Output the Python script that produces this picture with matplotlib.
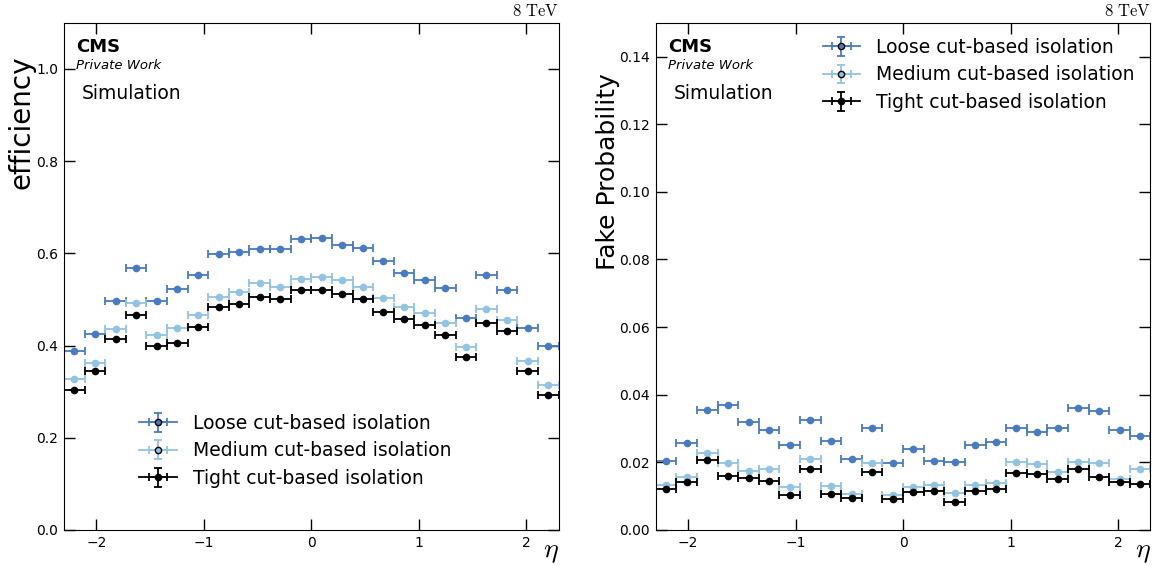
import numpy as np
import matplotlib
matplotlib.use("Agg")
import matplotlib.pyplot as plt
from matplotlib.legend_handler import HandlerErrorbar
from matplotlib.lines import Line2D

plt.rcParams['mathtext.fontset'] = 'cm'
plt.rcParams['font.family'] = 'DejaVu Sans'

# eta binning: 24 equal bins between -2.3 and 2.3
eta_edges = np.linspace(-2.3, 2.3, 25)
eta_centers = 0.5 * (eta_edges[1:] + eta_edges[:-1])
eta_halfwidth = 0.5 * np.diff(eta_edges)

labels = ['Loose cut-based isolation', 'Medium cut-based isolation', 'Tight cut-based isolation']
colors = ['#4a7bbf', '#92c3e2', 'black']

# signal efficiency per eta bin
eff_loose = [0.389, 0.425, 0.497, 0.568, 0.497, 0.522, 0.553, 0.598, 0.603, 0.609, 0.610, 0.632,
             0.633, 0.619, 0.612, 0.584, 0.557, 0.542, 0.525, 0.460, 0.552, 0.520, 0.437, 0.398]
eff_medium = [0.328, 0.363, 0.436, 0.492, 0.423, 0.439, 0.467, 0.506, 0.516, 0.535, 0.527, 0.545,
              0.548, 0.542, 0.527, 0.502, 0.484, 0.470, 0.449, 0.397, 0.480, 0.455, 0.367, 0.315]
eff_tight = [0.304, 0.344, 0.415, 0.466, 0.400, 0.405, 0.441, 0.483, 0.489, 0.506, 0.501, 0.520,
             0.521, 0.512, 0.500, 0.473, 0.458, 0.445, 0.423, 0.376, 0.448, 0.431, 0.345, 0.292]

# fake probability per eta bin
fake_loose = [0.0205, 0.0257, 0.0355, 0.0369, 0.0319, 0.0297, 0.0252, 0.0325, 0.0264, 0.0210, 0.0303, 0.0197,
              0.0239, 0.0205, 0.0201, 0.0250, 0.0260, 0.0303, 0.0289, 0.0303, 0.0360, 0.0353, 0.0296, 0.0277]
fake_medium = [0.0133, 0.0156, 0.0229, 0.0199, 0.0175, 0.0181, 0.0126, 0.0211, 0.0130, 0.0106, 0.0199, 0.0104,
               0.0126, 0.0133, 0.0110, 0.0133, 0.0138, 0.0202, 0.0194, 0.0172, 0.0202, 0.0197, 0.0152, 0.0180]
fake_tight = [0.0120, 0.0141, 0.0206, 0.0161, 0.0154, 0.0145, 0.0102, 0.0180, 0.0107, 0.0095, 0.0172, 0.0091,
              0.0112, 0.0115, 0.0082, 0.0114, 0.0122, 0.0169, 0.0165, 0.0150, 0.0179, 0.0158, 0.0141, 0.0137]

fig = plt.figure(figsize=(11.59, 5.70), dpi=100)
ax_eff = fig.add_axes([0.0552, 0.0702, 0.4268, 0.890])
ax_fake = fig.add_axes([0.5658, 0.0702, 0.4268, 0.890])


class OutlinedErrorbar(HandlerErrorbar):
    # errorbar legend entry with a solid line through it and a black-edged marker
    def create_artists(self, *args, **kwargs):
        artists = super().create_artists(*args, **kwargs)
        for a in artists:
            if isinstance(a, Line2D):
                marker = str(a.get_marker()).lower()
                if marker == 'o':
                    a.set_markeredgecolor('black')
                elif marker in ('none', ''):
                    a.set_linestyle('-')
                    a.set_linewidth(1.3)
        return artists


def draw_panel(ax, series, ylim, yticks, ylabel, ylabel_size, ylabel_pos, legend_anchor):
    for vals, col, lab in zip(series, colors, labels):
        ax.errorbar(eta_centers, vals, xerr=eta_halfwidth, yerr=np.zeros(len(vals)),
                    fmt='o', ms=4.5, color=col, mec=col, elinewidth=1.3,
                    capsize=2.7, capthick=1.3, label=lab)
    ax.set_xlim(-2.3, 2.3)
    ax.set_ylim(*ylim)
    ax.set_yticks(yticks)
    ax.set_xticks([-2, -1, 0, 1, 2])
    ax.tick_params(direction='in', length=8, width=1, top=True, right=True, labelsize=10, pad=4)
    ax.set_xlabel(r'$\eta$', fontsize=20, loc='right', labelpad=-9)
    ax.set_ylabel(ylabel, fontsize=ylabel_size, loc='top')
    ax.yaxis.set_label_coords(*ylabel_pos)
    ax.text(0.024, 0.942, 'CMS', transform=ax.transAxes, fontsize=13, fontweight='bold', va='baseline')
    ax.text(0.024, 0.909, 'Private Work', transform=ax.transAxes, fontsize=9.5, style='italic', va='baseline')
    ax.text(0.036, 0.850, 'Simulation', transform=ax.transAxes, fontsize=13.5, va='baseline')
    ax.text(1.0, 1.006, r'$8\ \mathrm{TeV}$', transform=ax.transAxes, fontsize=12, ha='right', va='bottom')
    ax.legend(loc='center left', bbox_to_anchor=legend_anchor, borderaxespad=0, frameon=False,
              fontsize=13.5, labelspacing=0.45, handlelength=2.0, handletextpad=0.85,
              handler_map={type(ax.containers[0]): OutlinedErrorbar()})


draw_panel(ax_eff, [eff_loose, eff_medium, eff_tight], (0, 1.1),
           [0.0, 0.2, 0.4, 0.6, 0.8, 1.0], 'efficiency', 20, (-0.058, 0.935), (0.137, 0.156))
draw_panel(ax_fake, [fake_loose, fake_medium, fake_tight], (0, 0.15),
           [0.00, 0.02, 0.04, 0.06, 0.08, 0.10, 0.12, 0.14], 'Fake Probability', 18,
           (-0.072, 0.90), (0.322, 0.897))

fig.savefig('out.png', dpi=100)
